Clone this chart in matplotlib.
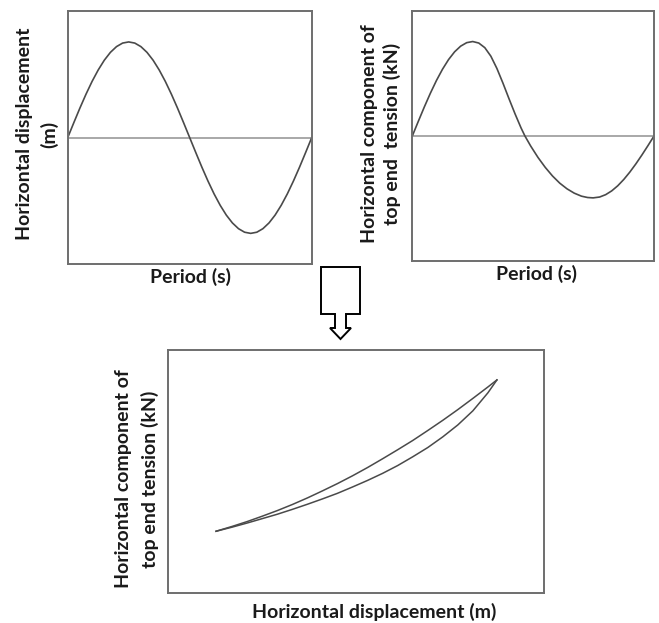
"""
Schematic: displacement and top end tension over one period, and the
resulting tension vs displacement loop.
"""
import matplotlib
matplotlib.use("Agg")
import matplotlib.pyplot as plt
from matplotlib.patches import Polygon

plt.rcParams["font.family"] = ["Lato", "DejaVu Sans"]

# one period, sampled every 1/40
period_t = [i / 40 for i in range(41)]

disp = [0.0, 0.156, 0.309, 0.454, 0.588, 0.707, 0.809, 0.891, 0.951, 0.988,
        1.0, 0.988, 0.951, 0.891, 0.809, 0.707, 0.588, 0.454, 0.309, 0.156,
        0.0, -0.156, -0.309, -0.454, -0.588, -0.707, -0.809, -0.891, -0.951,
        -0.988, -1.0, -0.988, -0.951, -0.891, -0.809, -0.707, -0.588, -0.454,
        -0.309, -0.156, 0.0]

tension_t = [0.0, 0.025, 0.05, 0.075, 0.10, 0.125, 0.15, 0.175, 0.20, 0.225,
             0.25, 0.275, 0.30, 0.325, 0.35, 0.375, 0.40, 0.425, 0.45, 0.466,
             0.49, 0.52, 0.55, 0.58, 0.61, 0.64, 0.67, 0.70, 0.725, 0.748,
             0.775, 0.80, 0.825, 0.85, 0.875, 0.90, 0.925, 0.95, 0.975, 1.0]
tension = [0.0, 0.156, 0.309, 0.454, 0.588, 0.707, 0.809, 0.891, 0.951, 0.988,
           1.0, 0.984, 0.935, 0.845, 0.715, 0.56, 0.395, 0.235, 0.085, 0.0,
           -0.107, -0.227, -0.332, -0.423, -0.499, -0.559, -0.605, -0.637,
           -0.651, -0.655, -0.646, -0.621, -0.581, -0.527, -0.460, -0.382,
           -0.295, -0.201, -0.102, 0.0]

# tension vs displacement loop (normalised axes)
loop_x = [0.127, 0.17, 0.21, 0.25, 0.29, 0.33, 0.37, 0.41, 0.45, 0.49, 0.53,
          0.57, 0.61, 0.65, 0.69, 0.73, 0.77, 0.81, 0.85, 0.874]
loop_up_y = [0.255, 0.275, 0.295, 0.317, 0.340, 0.365, 0.392, 0.421, 0.451,
             0.483, 0.517, 0.553, 0.590, 0.628, 0.669, 0.711, 0.755, 0.801,
             0.848, 0.877]
loop_lo_y = [0.255, 0.272, 0.289, 0.307, 0.325, 0.345, 0.366, 0.388, 0.411,
             0.437, 0.464, 0.493, 0.525, 0.561, 0.599, 0.643, 0.692, 0.750,
             0.824, 0.877]

W, H = 659, 623
CURVE = "#4a4a4a"
ZERO = "#9a9a9a"
FRAME = "#6e6e6e"
TEXT = "#1a1a1a"


def px_axes(fig, x0, y0, x1, y1):
    return fig.add_axes([x0 / W, 1 - y1 / H, (x1 - x0) / W, (y1 - y0) / H])


def blank(ax):
    ax.set_xticks([])
    ax.set_yticks([])
    for s in ax.spines.values():
        s.set_color(FRAME)
        s.set_linewidth(1.4)


def label(fig, x, y, text, rot=0, ls=1.4):
    fig.text(x / W, 1 - y / H, text, rotation=rot, ha="center", va="center",
             fontsize=14, fontweight="bold", color=TEXT, linespacing=ls,
             multialignment="center")


def main():
    fig = plt.figure(figsize=(W / 100, H / 100), dpi=100)

    ax1 = px_axes(fig, 67.7, 11.3, 311.7, 264)
    ax1.axhline(0, color=ZERO, lw=1.2)
    ax1.plot(period_t, disp, color=CURVE, lw=1.2)
    ax1.set_xlim(0, 1)
    ax1.set_ylim(-1.32, 1.32)
    blank(ax1)

    ax2 = px_axes(fig, 412.3, 11.3, 654, 260.7)
    ax2.axhline(0, color=ZERO, lw=1.2)
    ax2.plot(tension_t, tension, color=CURVE, lw=1.2)
    ax2.set_xlim(0, 1)
    ax2.set_ylim(-1.32, 1.32)
    blank(ax2)

    ax3 = px_axes(fig, 168.3, 350, 544.3, 593.3)
    ax3.plot(loop_x, loop_up_y, color=CURVE, lw=1.1)
    ax3.plot(loop_x, loop_lo_y, color=CURVE, lw=1.1)
    ax3.set_xlim(0, 1)
    ax3.set_ylim(0, 1)
    blank(ax3)

    label(fig, 37, 134, "Horizontal displacement\n(m)", rot=90, ls=1.45)
    label(fig, 190, 277, "Period (s)")
    label(fig, 381, 134, "Horizontal component of\ntop end  tension (kN)",
          rot=90, ls=1.3)
    label(fig, 536, 274, "Period (s)")
    label(fig, 137, 479, "Horizontal component of\ntop end tension (kN)",
          rot=90, ls=1.6)
    label(fig, 374, 612, "Horizontal displacement (m)")

    # block arrow between the rows
    pts = [(321, 267), (360, 267), (360, 314), (346, 314), (346, 328),
           (351, 328), (340.5, 339), (330, 328), (335, 328), (335, 314),
           (321, 314)]
    arrow = Polygon([(x / W, 1 - y / H) for x, y in pts], closed=True,
                    transform=fig.transFigure, facecolor="white",
                    edgecolor="black", lw=1.4)
    fig.patches.append(arrow)

    fig.savefig("out.png", dpi=100)


if __name__ == "__main__":
    main()
